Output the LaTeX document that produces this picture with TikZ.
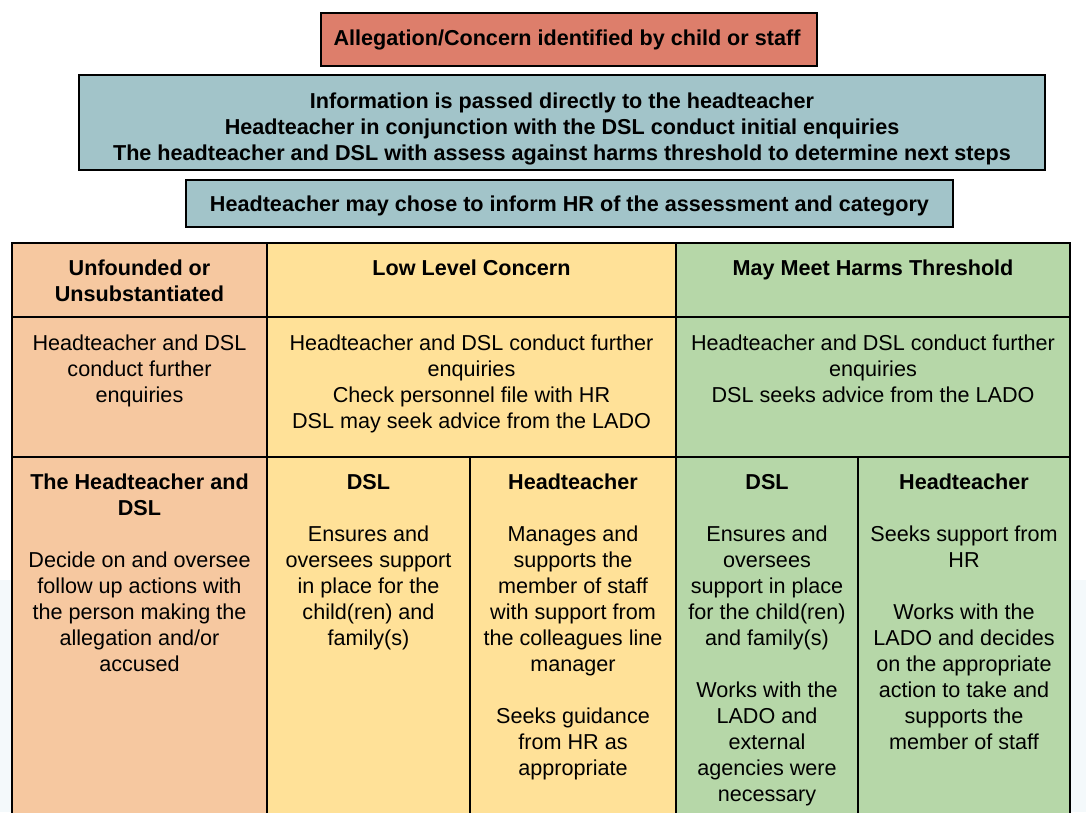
\documentclass[tikz,border=0pt]{standalone}
\usepackage{fontspec}
\setmainfont{Liberation Sans}
\definecolor{cred}{HTML}{DD7E6B}
\definecolor{cblue}{HTML}{A2C4C9}
\definecolor{corange}{HTML}{F6C8A0}
\definecolor{cyellow}{HTML}{FFE198}
\definecolor{cgreen}{HTML}{B6D7A8}
\definecolor{cbg}{HTML}{F4F9FB}
\newcommand\bodyfont{\fontsize{21.6}{26}\selectfont}
\newcommand\cellbox[2]{\parbox[t]{#1pt}{\centering #2}}
\tikzset{
  topbox/.style={draw=black, line width=1.6pt},
  txt/.style={anchor=base, inner sep=0pt, font=\bodyfont},
  grid/.style={line width=1.6pt, draw=black},
}
\begin{document}
\begin{tikzpicture}[x=1pt,y=-1pt]
\useasboundingbox (0,0) rectangle (1086,812);
\fill[cbg] (0,580) rectangle (1086,812);
% top boxes
\draw[topbox, fill=cred] (321,13) rectangle (817,66);
\node[txt] (t1) at (567,45.5) {\cellbox{490}{\bfseries Allegation/Concern identified by child or staff}};
\draw[topbox, fill=cblue] (79,75) rectangle (1045,170);
\node[txt] (t2) at (562,108.5) {\cellbox{960}{\bfseries Information is passed directly to the headteacher\\
Headteacher in conjunction with the DSL conduct initial enquiries\\
The headteacher and DSL with assess against harms threshold to determine next steps}};
\draw[topbox, fill=cblue] (186,180) rectangle (953,227);
\node[txt] (t3) at (569.5,211.5) {\cellbox{760}{\bfseries Headteacher may chose to inform HR of the assessment and category}};
% table fills
\fill[corange] (12,243) rectangle (267,815);
\fill[cyellow] (267,243) rectangle (676,815);
\fill[cgreen] (676,243) rectangle (1070,815);
% grid
\draw[grid] (12,815) -- (12,243) -- (1070,243) -- (1070,815);
\draw[grid] (12,317) -- (1070,317);
\draw[grid] (12,457) -- (1070,457);
\draw[grid] (267,243) -- (267,815);
\draw[grid] (676,243) -- (676,815);
\draw[grid] (470,457) -- (470,815);
\draw[grid] (858,457) -- (858,815);
% header row
\node[txt] (h1) at (139.5,275) {\cellbox{250}{\bfseries Unfounded or\\Unsubstantiated}};
\node[txt] (h2) at (471.5,275) {\cellbox{400}{\bfseries Low Level Concern}};
\node[txt] (h3) at (873,275) {\cellbox{390}{\bfseries May Meet Harms Threshold}};
% row 2
\node[txt] (r1) at (139.5,350) {\cellbox{250}{Headteacher and DSL\\conduct further\\enquiries}};
\node[txt] (r2) at (471.5,350) {\cellbox{400}{Headteacher and DSL conduct further\\enquiries\\Check personnel file with HR\\DSL may seek advice from the LADO}};
\node[txt] (r3) at (873,350) {\cellbox{390}{Headteacher and DSL conduct further\\enquiries\\DSL seeks advice from the LADO}};
% row 3
\node[txt] (c1) at (139.5,489) {\cellbox{250}{\textbf{The Headteacher and}\\\textbf{DSL}\\[26pt]Decide on and oversee\\follow up actions with\\the person making the\\allegation and/or\\accused}};
\node[txt] (c2) at (368.5,489) {\cellbox{200}{\textbf{DSL}\\[26pt]Ensures and\\oversees support\\in place for the\\child(ren) and\\family(s)}};
\node[txt] (c3) at (573,489) {\cellbox{200}{\textbf{Headteacher}\\[26pt]Manages and\\supports the\\member of staff\\with support from\\the colleagues line\\manager\\[26pt]Seeks guidance\\from HR as\\appropriate}};
\node[txt] (c4) at (767,489) {\cellbox{180}{\textbf{DSL}\\[26pt]Ensures and\\oversees\\support in place\\for the child(ren)\\and family(s)\\[26pt]Works with the\\LADO and\\external\\agencies were\\necessary}};
\node[txt] (c5) at (964,489) {\cellbox{210}{\textbf{Headteacher}\\[26pt]Seeks support from\\HR\\[26pt]Works with the\\LADO and decides\\on the appropriate\\action to take and\\supports the\\member of staff}};
\end{tikzpicture}
\end{document}
